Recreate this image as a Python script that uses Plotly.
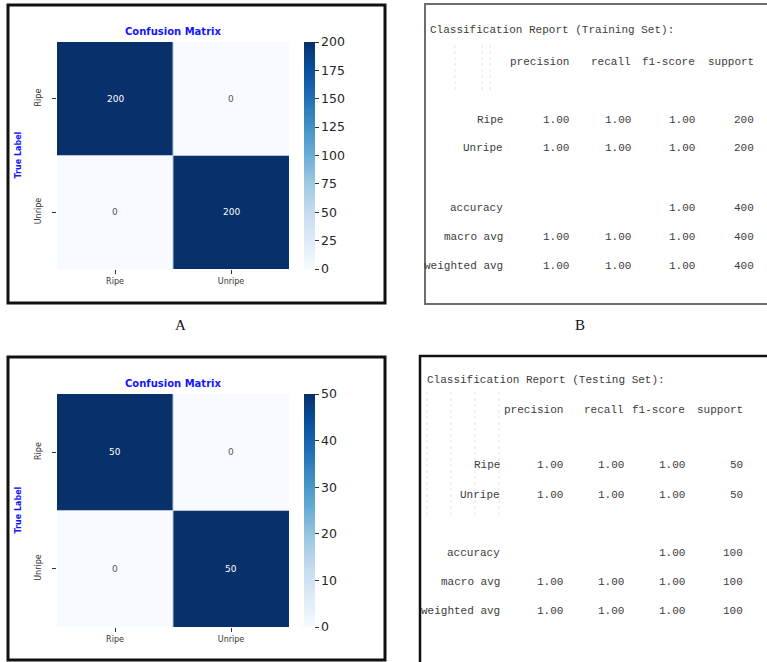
import plotly.graph_objects as go

W, H = 767, 662

# ---------------- data ----------------
class_labels = ["Ripe", "Unripe"]
cm_train = [[200, 0], [0, 200]]
cm_test = [[50, 0], [0, 50]]

report_cols = ["precision", "recall", "f1-score", "support"]
report_rows = ["Ripe", "Unripe", "accuracy", "macro avg", "weighted avg"]
train_precision = [1.00, 1.00, None, 1.00, 1.00]
train_recall = [1.00, 1.00, None, 1.00, 1.00]
train_f1 = [1.00, 1.00, 1.00, 1.00, 1.00]
train_support = [200, 200, 400, 400, 400]
test_precision = [1.00, 1.00, None, 1.00, 1.00]
test_recall = [1.00, 1.00, None, 1.00, 1.00]
test_f1 = [1.00, 1.00, 1.00, 1.00, 1.00]
test_support = [50, 50, 100, 100, 100]
panel_letters = ["A", "B"]


def px(x):
    return x / W


def py(y):
    return 1 - y / H


fig = go.Figure()

# ---------------- confusion matrices ----------------
cm_panels = [
    dict(z=cm_train, top=42, bot=269, dtick=25, title_y=31, xa="x", ya="y", xl="xaxis", yl="yaxis", box=(8, 5, 385, 303)),
    dict(z=cm_test, top=394, bot=627, dtick=10, title_y=383, xa="x2", ya="y2", xl="xaxis2", yl="yaxis2", box=(8, 357, 385, 660)),
]
HL, HR = 57, 289
BLUE_TITLE = "#1414ff"
for p in cm_panels:
    zmax = max(max(r) for r in p["z"])
    fig.add_trace(go.Heatmap(
        z=p["z"], x=class_labels, y=class_labels,
        colorscale="Blues", zmin=0, zmax=zmax,
        xaxis=p["xa"], yaxis=p["ya"],
        hoverinfo="skip",
        colorbar=dict(
            x=px(304), xanchor="left", y=py((p["top"] + p["bot"]) / 2), yanchor="middle",
            lenmode="pixels", len=p["bot"] - p["top"], thicknessmode="pixels", thickness=11,
            outlinewidth=0, ticks="outside", ticklen=4, tickcolor="#333", tickwidth=1,
            tick0=0, dtick=p["dtick"], tickfont=dict(family="DejaVu Sans", size=12.5, color="#262626"),
            xpad=0, ypad=0,
        ),
    ))
    fig.layout[p["xl"]] = dict(
        domain=[px(HL), px(HR)], anchor=p["ya"], showgrid=False, zeroline=False, showline=False,
        ticks="outside", ticklen=4, tickcolor="#333", tickfont=dict(family="DejaVu Sans", size=8, color="#333"),
        fixedrange=True,
    )
    fig.layout[p["yl"]] = dict(
        domain=[py(p["bot"]), py(p["top"])], anchor=p["xa"], autorange="reversed",
        showgrid=False, zeroline=False, showline=False, tickangle=-90,
        ticks="outside", ticklen=4, tickcolor="#333", tickfont=dict(family="DejaVu Sans", size=8, color="#333"),
        ticklabelstandoff=8, fixedrange=True,
    )
    # cell separators (seaborn linewidths)
    n = len(class_labels)
    for b in range(1, n):
        fig.add_shape(type="line", xref=p["xa"], yref=p["ya"] + " domain", x0=b - 0.5, x1=b - 0.5, y0=0, y1=1,
                      line=dict(color="#b4c3da", width=1), layer="above")
        fig.add_shape(type="line", xref=p["xa"] + " domain", yref=p["ya"], x0=0, x1=1, y0=b - 0.5, y1=b - 0.5,
                      line=dict(color="#b4c3da", width=1), layer="above")
    # cell value annotations
    for i, row in enumerate(p["z"]):
        for j, v in enumerate(row):
            fig.add_annotation(
                x=class_labels[j], y=class_labels[i], xref=p["xa"], yref=p["ya"],
                text=str(v), showarrow=False,
                font=dict(family="DejaVu Sans", size=9, color="#ffffff" if v > zmax / 2 else "#555555"),
            )
    # title
    fig.add_annotation(
        x=px((HL + HR) / 2), y=py(p["title_y"]), xref="paper", yref="paper",
        text="<b>Confusion Matrix</b>", showarrow=False, xanchor="center", yanchor="middle",
        font=dict(family="DejaVu Sans", size=10, color=BLUE_TITLE),
    )
    # y axis title
    fig.add_annotation(
        x=px(18), y=py((p["top"] + p["bot"]) / 2), xref="paper", yref="paper",
        text="<b>True Label</b>", showarrow=False, textangle=-90, xanchor="center", yanchor="middle",
        font=dict(family="DejaVu Sans", size=8, color=BLUE_TITLE),
    )
    x0, y0, x1, y1 = p["box"]
    fig.add_shape(type="rect", xref="paper", yref="paper", x0=px(x0), x1=px(x1), y0=py(y1), y1=py(y0),
                  line=dict(color="#111", width=3), layer="above")

# ---------------- classification reports ----------------
MONO = "Liberation Mono, monospace"
FS = 11
TXT = "#3c3c3c"
reports = [
    dict(title="Classification Report (Training Set):", title_x=428, title_y=30, head_y=62,
         row_y=[120, 148, 208, 237, 266], label_r=505, col_r=[571, 633, 697, 756],
         prec=train_precision, rec=train_recall, f1=train_f1, sup=train_support,
         guides=[455, 482, 490], guide_y=(42, 90)),
    dict(title="Classification Report (Testing Set):", title_x=425, title_y=380, head_y=410,
         row_y=[465, 495, 553, 582, 611], label_r=502, col_r=[565, 626, 687, 745],
         prec=test_precision, rec=test_recall, f1=test_f1, sup=test_support,
         guides=[427, 451, 475, 499], guide_y=(392, 515)),
]
for r in reports:
    fig.add_annotation(x=px(r["title_x"]), y=py(r["title_y"]), xref="paper", yref="paper",
                       text=r["title"], showarrow=False, xanchor="left", yanchor="middle",
                       font=dict(family=MONO, size=FS, color=TXT))
    for c, name in enumerate(report_cols):
        fig.add_annotation(x=px(r["col_r"][c]), y=py(r["head_y"]), xref="paper", yref="paper",
                           text=name, showarrow=False, xanchor="right", yanchor="middle",
                           font=dict(family=MONO, size=FS, color=TXT))
    cols = [r["prec"], r["rec"], r["f1"], r["sup"]]
    for k, lab in enumerate(report_rows):
        fig.add_annotation(x=px(r["label_r"]), y=py(r["row_y"][k]), xref="paper", yref="paper",
                           text=lab, showarrow=False, xanchor="right", yanchor="middle",
                           font=dict(family=MONO, size=FS, color=TXT))
        for c, col in enumerate(cols):
            v = col[k]
            if v is None:
                continue
            s = str(v) if c == 3 else f"{v:.2f}"
            fig.add_annotation(x=px(r["col_r"][c]), y=py(r["row_y"][k]), xref="paper", yref="paper",
                               text=s, showarrow=False, xanchor="right", yanchor="middle",
                               font=dict(family=MONO, size=FS, color=TXT))
    for gx in r["guides"]:
        fig.add_shape(type="line", xref="paper", yref="paper", x0=px(gx), x1=px(gx),
                      y0=py(r["guide_y"][1]), y1=py(r["guide_y"][0]),
                      line=dict(color="#e4e4e4", width=1, dash="dot"))

# report boxes
fig.add_shape(type="rect", xref="paper", yref="paper", x0=px(425), x1=px(780), y0=py(304), y1=py(4),
              line=dict(color="#6e6e6e", width=2))
fig.add_shape(type="rect", xref="paper", yref="paper", x0=px(420), x1=px(780), y0=py(680), y1=py(356),
              line=dict(color="#111", width=2.5))

# panel letters
for letter, lx in zip(panel_letters, [180, 580]):
    fig.add_annotation(x=px(lx), y=py(325), xref="paper", yref="paper", text=letter, showarrow=False,
                       xanchor="center", yanchor="middle",
                       font=dict(family="Liberation Serif", size=15, color="#111"))

fig.update_layout(
    width=W, height=H, margin=dict(l=0, r=0, t=0, b=0),
    paper_bgcolor="white", plot_bgcolor="white", showlegend=False,
)

fig.write_html("out.html", config={"displayModeBar": False},
               post_script="document.body.style.margin='0';")
